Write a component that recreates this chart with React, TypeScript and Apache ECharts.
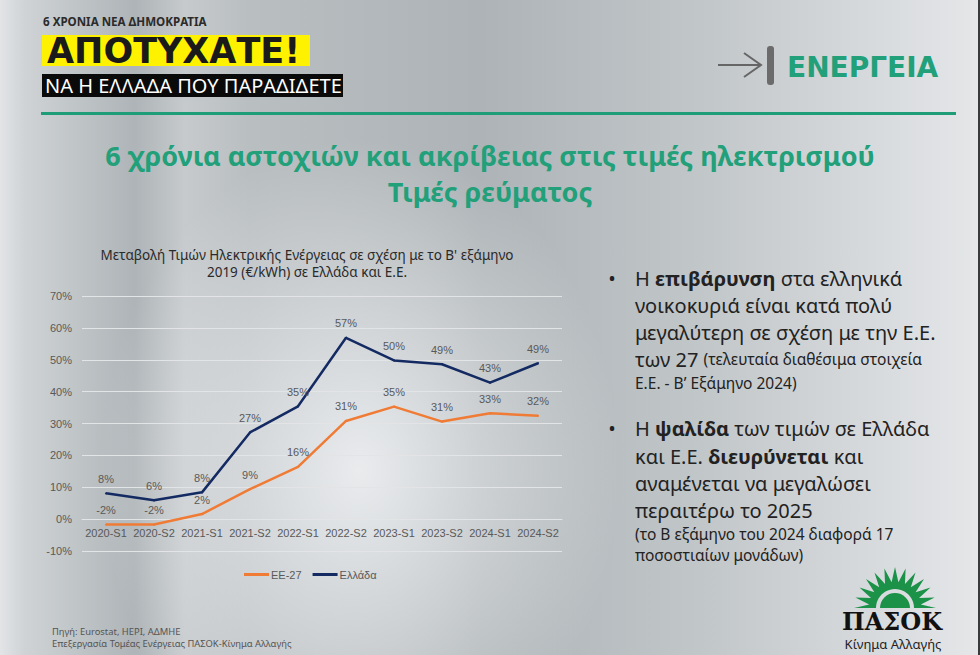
import React, { useEffect, useRef } from 'react';
import * as echarts from 'echarts';

const categories = ['2020-S1', '2020-S2', '2021-S1', '2021-S2', '2022-S1', '2022-S2', '2023-S1', '2023-S2', '2024-S1', '2024-S2'];
const euValues = [-1.7, -1.7, 1.6, 9.4, 16.4, 30.8, 35.3, 30.6, 33.2, 32.4];
const greeceValues = [8.1, 5.9, 8.4, 27.2, 35.4, 56.9, 49.8, 48.6, 42.8, 48.9];
const seriesNames = ['ΕΕ-27', 'Ελλάδα'];
const yMin = -10;
const yMax = 70;
const yStep = 10;

const chartTitleLines = ['Μεταβολή Τιμών Ηλεκτρικής Ενέργειας σε σχέση με το Β\' εξάμηνο', '2019 (€/kWh) σε Ελλάδα και Ε.Ε.'];
const slideTitleLines = ['6 χρόνια αστοχιών και ακρίβειας στις τιμές ηλεκτρισμού', 'Τιμές ρεύματος'];
const bullet1Lines = [
  'Η {b|επιβάρυνση} στα ελληνικά',
  'νοικοκυριά είναι κατά πολύ',
  'μεγαλύτερη σε σχέση με την Ε.Ε.',
  'των 27 {s|(τελευταία διαθέσιμα στοιχεία}',
  '{s|Ε.Ε. - Β\u2019 Εξάμηνο 2024)}',
];
const bullet2Lines = [
  'Η {b|ψαλίδα} των τιμών σε Ελλάδα',
  'και Ε.Ε. {b|διευρύνεται} και',
  'αναμένεται να μεγαλώσει',
  'περαιτέρω το 2025',
  '{s|(το Β εξάμηνο του 2024 διαφορά 17}',
  '{s|ποσοστιαίων μονάδων)}',
];
const sourceLines = ['Πηγή: Eurostat, HEPI, ΑΔΜΗΕ', 'Επεξεργασία Τομέας Ενέργειας ΠΑΣΟΚ-Κίνημα Αλλαγής'];

const FONT = '"Noto Sans", "DejaVu Sans", sans-serif';
const AXIS_FONT = '"Liberation Sans", Arial, sans-serif';
const GREEN = '#21a07a';
const ORANGE = '#f07b35';
const NAVY = '#142a62';
const LABEL_GREY = '#595959';
const GRID_LINE = '#e2e4e6';

const GRID_TOP = 296;
const GRID_HEIGHT = 255;

function txt(x: number, y: number, text: string, o: any = {}) {
  const size = o.size ?? 12;
  const family = o.family ?? FONT;
  const fill = o.fill ?? '#222';
  const align = o.align ?? 'left';
  const rich: any = {
    b: { fontSize: size, fontFamily: family, fontWeight: 'bold', fill, color: fill },
    s: { fontSize: o.smallSize ?? 15.5, fontFamily: family, fontWeight: 'normal', fill, color: fill },
  };
  return {
    type: 'text',
    x,
    y,
    silent: true,
    style: {
      text,
      fill,
      fontSize: size,
      fontFamily: family,
      fontWeight: o.weight ?? 'normal',
      align,
      verticalAlign: 'middle',
      textAlign: align,
      textVerticalAlign: 'middle',
      rich,
    },
  };
}

function sunElements() {
  const cx = 895;
  const cy = 608;
  const n = 12;
  const pts: number[][] = [];
  for (let k = 0; k <= 2 * n; k++) {
    const a = Math.PI + (k * Math.PI) / (2 * n);
    const r = k % 2 === 0 ? 41 : 26;
    pts.push([cx + r * Math.cos(a), cy + r * Math.sin(a)]);
  }
  for (let k = 2 * n; k >= 0; k--) {
    const a = Math.PI + (k * Math.PI) / (2 * n);
    pts.push([cx + 19 * Math.cos(a), cy + 19 * Math.sin(a)]);
  }
  return [
    { type: 'polygon', silent: true, shape: { points: pts }, style: { fill: '#1c9148' } },
    {
      type: 'sector',
      silent: true,
      shape: { cx, cy, r: 15, r0: 0, startAngle: Math.PI, endAngle: Math.PI * 2 },
      style: { fill: '#1c9148' },
    },
  ];
}

export default function App() {
  const ref = useRef<HTMLDivElement>(null);

  useEffect(() => {
    if (!ref.current) return;
    const chart = echarts.init(ref.current, undefined, { renderer: 'svg' });

    const graphics: any[] = [];
    // header
    graphics.push(txt(43, 21, '6 ΧΡΟΝΙΑ ΝΕΑ ΔΗΜΟΚΡΑΤΙΑ', { size: 11.6, weight: 'bold', fill: '#2b2b2b' }));
    graphics.push({ type: 'rect', silent: true, shape: { x: 42, y: 35, width: 268, height: 31 }, style: { fill: '#fff200' } });
    graphics.push(txt(47, 51, 'ΑΠΟΤΥΧΑΤΕ!', { size: 35, weight: 'bold', fill: '#1a1a1a', family: '"DejaVu Sans", sans-serif' }));
    graphics.push({ type: 'rect', silent: true, shape: { x: 42, y: 74, width: 301, height: 23 }, style: { fill: '#0a0a0a' } });
    graphics.push(txt(45, 85.5, 'ΝΑ Η ΕΛΛΑΔΑ ΠΟΥ ΠΑΡΑΔΙΔΕΤΕ', { size: 20, fill: '#ffffff' }));
    // right header
    graphics.push({ type: 'polyline', silent: true, shape: { points: [[718, 65], [761, 65]] }, style: { stroke: '#666', lineWidth: 2, fill: 'none' } });
    graphics.push({ type: 'polyline', silent: true, shape: { points: [[744, 53], [761, 65], [744, 77]] }, style: { stroke: '#666', lineWidth: 2, fill: 'none' } });
    graphics.push({ type: 'rect', silent: true, shape: { x: 767, y: 46, width: 7, height: 39, r: 3 }, style: { fill: '#6b6b6b' } });
    graphics.push(txt(787, 67, 'ΕΝΕΡΓΕΙΑ', { size: 28, weight: 'bold', fill: GREEN, family: '"DejaVu Sans", sans-serif' }));
    // divider
    graphics.push({ type: 'rect', silent: true, shape: { x: 41, y: 112, width: 915, height: 3 }, style: { fill: '#1f9c78' } });
    // slide title
    graphics.push(txt(490, 155, slideTitleLines[0], { size: 27, weight: 'bold', fill: GREEN, align: 'center' }));
    graphics.push(txt(490, 191, slideTitleLines[1], { size: 27, weight: 'bold', fill: GREEN, align: 'center' }));
    // chart title
    graphics.push(txt(307, 255, chartTitleLines[0], { size: 13.5, fill: '#2a2a2a', align: 'center' }));
    graphics.push(txt(307, 272, chartTitleLines[1], { size: 13.5, fill: '#2a2a2a', align: 'center' }));
    // source
    graphics.push(txt(52, 631, sourceLines[0], { size: 9.4, fill: '#555' }));
    graphics.push(txt(52, 643, sourceLines[1], { size: 9.4, fill: '#555' }));
    // bullets
    const b1y = [278, 305, 332, 359, 383];
    const b2y = [428, 456, 483, 510, 534, 555];
    graphics.push(txt(612, b1y[0], '•', { size: 20, fill: '#222', align: 'center' }));
    graphics.push(txt(612, b2y[0], '•', { size: 20, fill: '#222', align: 'center' }));
    bullet1Lines.forEach((l, i) => graphics.push(txt(635, b1y[i], l, { size: 20, fill: '#222' })));
    bullet2Lines.forEach((l, i) => graphics.push(txt(635, b2y[i], l, { size: 20, fill: '#222' })));
    // logo
    graphics.push(...sunElements());
    graphics.push(txt(892, 621, 'ΠΑΣΟΚ', { size: 24, weight: 'bold', fill: '#111', align: 'center', family: '"DejaVu Serif", serif' }));
    graphics.push(txt(893, 644, 'Κίνημα Αλλαγής', { size: 13, fill: '#222', align: 'center' }));
    // right border
    graphics.push({ type: 'rect', silent: true, shape: { x: 978, y: 0, width: 2, height: 655 }, style: { fill: '#3a3a3a' } });

    const labelFmt = (p: any) => `${Math.round(p.value)}%`;
    const zeroOffset = -(GRID_HEIGHT * (0 - yMin)) / (yMax - yMin);

    chart.setOption({
      animation: false,
      backgroundColor: 'transparent',
      grid: { left: 82, top: GRID_TOP, width: 480, height: GRID_HEIGHT, containLabel: false },
      legend: {
        data: seriesNames,
        left: 244,
        top: 569,
        padding: 0,
        itemWidth: 25,
        itemHeight: 3,
        itemGap: 11,
        icon: 'rect',
        textStyle: { color: LABEL_GREY, fontSize: 11, fontFamily: AXIS_FONT, padding: [0, 0, 0, -3] },
      },
      xAxis: {
        type: 'category',
        data: categories,
        boundaryGap: true,
        offset: zeroOffset,
        axisLine: { show: true, onZero: false, lineStyle: { color: GRID_LINE, width: 1 } },
        axisTick: { show: false },
        axisLabel: { color: LABEL_GREY, fontSize: 11, fontFamily: AXIS_FONT, margin: 8, interval: 0 },
      },
      yAxis: {
        type: 'value',
        min: yMin,
        max: yMax,
        interval: yStep,
        axisLine: { show: false },
        axisTick: { show: false },
        axisLabel: { color: LABEL_GREY, fontSize: 11, fontFamily: AXIS_FONT, margin: 10, formatter: '{value}%' },
        splitLine: { lineStyle: { color: GRID_LINE, width: 1 } },
      },
      series: [
        {
          name: seriesNames[0],
          type: 'line',
          data: euValues,
          symbol: 'circle',
          symbolSize: 2,
          showSymbol: true,
          lineStyle: { color: ORANGE, width: 2.5 },
          itemStyle: { color: ORANGE },
          label: { show: true, position: 'top', distance: 8, color: LABEL_GREY, fontSize: 11, fontFamily: AXIS_FONT, formatter: labelFmt },
          z: 2,
        },
        {
          name: seriesNames[1],
          type: 'line',
          data: greeceValues,
          symbol: 'circle',
          symbolSize: 2,
          showSymbol: true,
          lineStyle: { color: NAVY, width: 2.5 },
          itemStyle: { color: NAVY },
          label: { show: true, position: 'top', distance: 8, color: LABEL_GREY, fontSize: 11, fontFamily: AXIS_FONT, formatter: labelFmt },
          z: 3,
        },
      ],
      graphic: { elements: graphics },
    });

    return () => chart.dispose();
  }, []);

  const bg =
    'radial-gradient(ellipse 260px 330px at 360px 470px, rgba(236,238,240,0.95), rgba(236,238,240,0) 100%), ' +
    'linear-gradient(90deg, #e2e4e6 0px, #cfd3d6 25px, #aeb4b7 135px, #c6cacd 185px, #b9bec1 250px, #adb3b6 480px, #c1c6c9 700px, #d8dbde 880px, #e4e6e8 975px)';

  return (
    <div
      ref={ref}
      style={{ position: 'fixed', left: 0, top: 0, width: 980, height: 655, background: bg }}
    />
  );
}
